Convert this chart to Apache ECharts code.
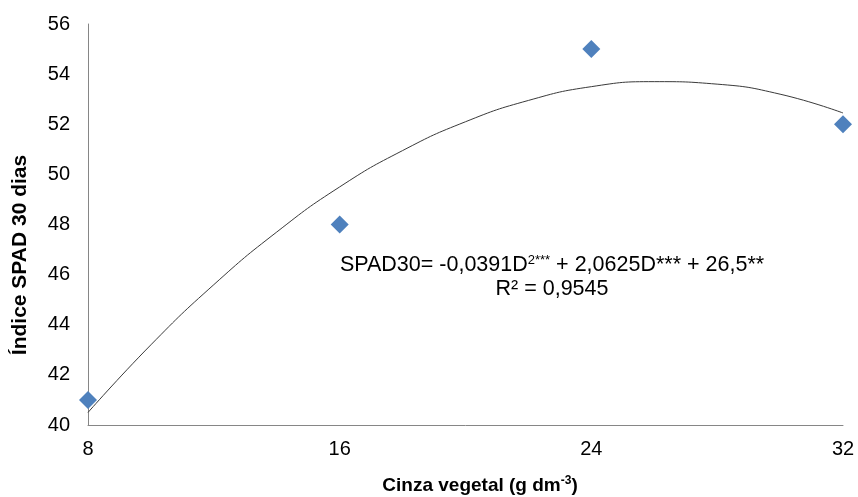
<!DOCTYPE html>
<html>
<head>
<meta charset="utf-8">
<script src="https://cdn.jsdelivr.net/npm/echarts@6/dist/echarts.min.js"></script>
<style>html,body{margin:0;padding:0;background:#fff}#c{width:858px;height:497px}</style>
</head>
<body>
<div id="c"></div>
<script>
// Observed data points
var doseX = [8, 16, 24, 32];
var spadY = [41, 48, 55, 52];
// Trend curve
var curveX = [8, 10, 12, 14, 16, 18, 20, 22, 24, 26, 28, 30, 32];
var curveY = [40.5, 43.2, 45.6, 47.7, 49.5, 50.95, 52.1, 52.95, 53.5, 53.7, 53.6, 53.2, 52.45];
var xTicks = [8, 16, 24, 32];
var yTicks = [40, 42, 44, 46, 48, 50, 52, 54, 56];

var FONT = '"Liberation Sans", Arial, sans-serif';
var chart = echarts.init(document.getElementById('c'));

var pts = doseX.map(function (x, i) { return [x, spadY[i]]; });
var curve = curveX.map(function (x, i) { return [x, curveY[i]]; });

chart.setOption({
  animation: false,
  backgroundColor: '#fff',
  grid: { left: 88, right: 15, top: 24, bottom: 72, containLabel: false },
  xAxis: {
    type: 'value', min: xTicks[0], max: xTicks[xTicks.length - 1], interval: 8,
    axisLine: { show: true, lineStyle: { color: '#868686', width: 1 } },
    axisTick: { show: false }, splitLine: { show: false },
    axisLabel: { fontFamily: FONT, fontSize: 20, color: '#000', margin: 14 }
  },
  yAxis: {
    type: 'value', min: yTicks[0], max: yTicks[yTicks.length - 1], interval: 2,
    axisLine: { show: true, lineStyle: { color: '#868686', width: 1 } },
    axisTick: { show: false }, splitLine: { show: false },
    axisLabel: { fontFamily: FONT, fontSize: 20, color: '#000', margin: 18 }
  },
  graphic: [
    {
      type: 'text', x: 20, y: 255, rotation: Math.PI / 2,
      style: { text: 'Índice SPAD 30 dias', fontFamily: FONT, fontSize: 21, fontWeight: 'bold', fill: '#000', align: 'center', verticalAlign: 'middle' }
    },
    {
      type: 'text', x: 480, y: 484,
      style: {
        text: '{b|Cinza vegetal (g dm}{s|-3}{b|)}',
        align: 'center', verticalAlign: 'middle',
        rich: {
          b: { fontFamily: FONT, fontSize: 19, fontWeight: 'bold', fill: '#000', verticalAlign: 'bottom', lineHeight: 22 },
          s: { fontFamily: FONT, fontSize: 12, fontWeight: 'bold', fill: '#000', verticalAlign: 'bottom', padding: [0, 0, 8, 0], lineHeight: 22 }
        }
      }
    },
    {
      type: 'text', x: 552, y: 264,
      style: {
        text: '{a|SPAD30= -0,0391D}{s|2***}{a| + 2,0625D*** + 26,5**}',
        align: 'center', verticalAlign: 'middle',
        rich: {
          a: { fontFamily: FONT, fontSize: 21.5, fill: '#000', verticalAlign: 'bottom', lineHeight: 24 },
          s: { fontFamily: FONT, fontSize: 13, fill: '#000', verticalAlign: 'bottom', padding: [0, 0, 9, 0], lineHeight: 24 }
        }
      }
    },
    {
      type: 'text', x: 552, y: 289,
      style: { text: 'R² = 0,9545', fontFamily: FONT, fontSize: 21.5, fill: '#000', align: 'center', verticalAlign: 'middle' }
    }
  ],
  series: [
    {
      type: 'line', data: curve, smooth: 0.5, showSymbol: false, z: 2,
      lineStyle: { color: '#3a3a3a', width: 1 }
    },
    {
      type: 'scatter', data: pts, symbol: 'diamond', symbolSize: 18, clip: false, z: 3,
      itemStyle: { color: '#4F81BD', opacity: 1 }
    }
  ]
});
</script>
</body>
</html>
